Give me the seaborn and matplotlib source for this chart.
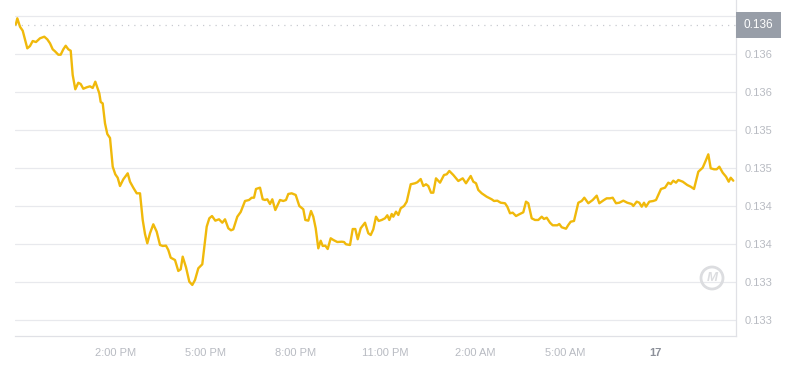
import matplotlib
matplotlib.use("Agg")
import matplotlib.pyplot as plt
import matplotlib.ticker as mticker
from matplotlib.patches import Circle
import seaborn as sns
import pandas as pd

# hours since start of the 24h window
hours = [0.023, 0.077, 0.167, 0.257, 0.410, 0.500, 0.590, 0.700, 0.833, 0.977,
         1.077, 1.167, 1.257, 1.333, 1.443, 1.523, 1.610, 1.690, 1.777, 1.857,
         1.923, 2.010, 2.110, 2.190, 2.277, 2.390, 2.500, 2.590, 2.677, 2.743,
         2.810, 2.857, 2.923, 3.000, 3.077, 3.167, 3.257, 3.343, 3.423, 3.500,
         3.610, 3.757, 3.833, 3.943, 4.057, 4.167, 4.257, 4.333, 4.410, 4.500,
         4.610, 4.723, 4.833, 4.923, 5.033, 5.110, 5.190, 5.333, 5.443, 5.523,
         5.590, 5.700, 5.810, 5.910, 6.000, 6.110, 6.243, 6.310, 6.390, 6.477,
         6.567, 6.677, 6.800, 6.910, 7.000, 7.110, 7.200, 7.277, 7.410, 7.523,
         7.667, 7.800, 7.890, 7.967, 8.033, 8.167, 8.257, 8.333, 8.410, 8.500,
         8.577, 8.677, 8.833, 8.943, 9.033, 9.110, 9.223, 9.357, 9.477, 9.610,
         9.677, 9.777, 9.867, 9.943, 10.023, 10.110, 10.190, 10.257, 10.343, 10.423,
         10.523, 10.610, 10.743, 10.890, 10.967, 11.033, 11.167, 11.257, 11.343, 11.423,
         11.523, 11.667, 11.777, 11.857, 11.943, 12.033, 12.123, 12.223, 12.333, 12.410,
         12.477, 12.557, 12.610, 12.700, 12.777, 12.857, 12.967, 13.057, 13.190, 13.333,
         13.410, 13.523, 13.610, 13.700, 13.777, 13.867, 13.943, 14.033, 14.167, 14.300,
         14.390, 14.477, 14.610, 14.777, 14.923, 15.033, 15.190, 15.277, 15.367, 15.443,
         15.557, 15.723, 15.890, 15.967, 16.077, 16.190, 16.333, 16.410, 16.500, 16.590,
         16.700, 16.810, 16.943, 17.033, 17.110, 17.223, 17.333, 17.443, 17.557, 17.633,
         17.723, 17.833, 17.923, 18.077, 18.143, 18.223, 18.367, 18.443, 18.523, 18.633,
         18.777, 18.890, 18.977, 19.110, 19.257, 19.390, 19.477, 19.633, 19.723, 19.833,
         19.923, 20.033, 20.143, 20.277, 20.410, 20.557, 20.610, 20.723, 20.810, 20.890,
         20.967, 21.033, 21.143, 21.277, 21.367, 21.533, 21.667, 21.777, 21.857, 21.943,
         22.033, 22.110, 22.257, 22.410, 22.523, 22.633, 22.777, 22.923, 23.033, 23.110,
         23.190, 23.300, 23.390, 23.477, 23.590, 23.700, 23.790, 23.857, 23.943]

price = [0.136882, 0.136970, 0.136859, 0.136807, 0.136575, 0.136605, 0.136671, 0.136658, 0.136707, 0.136728,
         0.136693, 0.136641, 0.136562, 0.136536, 0.136491, 0.136491, 0.136562, 0.136609, 0.136562, 0.136543,
         0.136224, 0.136036, 0.136122, 0.136105, 0.136043, 0.136062, 0.136075, 0.136053, 0.136136, 0.136062,
         0.135983, 0.135868, 0.135851, 0.135588, 0.135447, 0.135395, 0.135017, 0.134917, 0.134872, 0.134763,
         0.134851, 0.134930, 0.134820, 0.134741, 0.134667, 0.134667, 0.134316, 0.134132, 0.134009, 0.134141,
         0.134259, 0.134162, 0.133987, 0.133974, 0.133978, 0.133921, 0.133820, 0.133789, 0.133645, 0.133667,
         0.133833, 0.133693, 0.133504, 0.133461, 0.133526, 0.133680, 0.133733, 0.133964, 0.134228, 0.134338,
         0.134368, 0.134307, 0.134325, 0.134280, 0.134325, 0.134207, 0.134180, 0.134193, 0.134359, 0.134421,
         0.134566, 0.134579, 0.134609, 0.134609, 0.134724, 0.134741, 0.134588, 0.134579, 0.134588, 0.134526,
         0.134588, 0.134447, 0.134579, 0.134566, 0.134579, 0.134658, 0.134667, 0.134645, 0.134500, 0.134457,
         0.134316, 0.134307, 0.134434, 0.134359, 0.134207, 0.133943, 0.134043, 0.133974, 0.133978, 0.133934,
         0.134075, 0.134053, 0.134026, 0.134030, 0.134026, 0.133996, 0.133987, 0.134197, 0.134197, 0.134062,
         0.134207, 0.134280, 0.134141, 0.134118, 0.134193, 0.134359, 0.134303, 0.134316, 0.134338, 0.134378,
         0.134316, 0.134395, 0.134359, 0.134425, 0.134382, 0.134470, 0.134500, 0.134557, 0.134786, 0.134799,
         0.134812, 0.134855, 0.134763, 0.134786, 0.134763, 0.134675, 0.134675, 0.134864, 0.134807, 0.134908,
         0.134917, 0.134961, 0.134908, 0.134829, 0.134864, 0.134799, 0.134895, 0.134820, 0.134799, 0.134711,
         0.134667, 0.134622, 0.134588, 0.134566, 0.134570, 0.134543, 0.134536, 0.134491, 0.134404, 0.134412,
         0.134368, 0.134391, 0.134417, 0.134557, 0.134536, 0.134338, 0.134316, 0.134316, 0.134359, 0.134329,
         0.134346, 0.134280, 0.134246, 0.134246, 0.134263, 0.134220, 0.134201, 0.134250, 0.134293, 0.134303,
         0.134543, 0.134566, 0.134609, 0.134536, 0.134579, 0.134636, 0.134536, 0.134579, 0.134601, 0.134601,
         0.134609, 0.134536, 0.134543, 0.134570, 0.134543, 0.134526, 0.134500, 0.134557, 0.134543, 0.134491,
         0.134543, 0.134491, 0.134557, 0.134566, 0.134579, 0.134724, 0.134741, 0.134807, 0.134789, 0.134833,
         0.134807, 0.134842, 0.134820, 0.134776, 0.134754, 0.134724, 0.134951, 0.135004, 0.135105, 0.135180,
         0.134996, 0.134983, 0.134983, 0.135017, 0.134938, 0.134886, 0.134820, 0.134872, 0.134833]

x_tick_pos = [3.343, 6.343, 9.343, 12.343, 15.343, 18.343, 21.343]
x_tick_labels = ["2:00 PM", "5:00 PM", "8:00 PM", "11:00 PM", "2:00 AM", "5:00 AM", "17"]
y_tick_pos = [0.1330, 0.1335, 0.1340, 0.1345, 0.1350, 0.1355, 0.1360, 0.1365, 0.1370]
y_tick_labels = ["0.133", "0.133", "0.134", "0.134", "0.135", "0.135", "0.136", "0.136", "0.137"]
ref_price = 0.136882
ref_label = "0.136"

sns.set_style("white")
plt.rcParams["font.family"] = ["Liberation Sans", "DejaVu Sans"]

fig = plt.figure(figsize=(8, 3.7), dpi=100)
ax = fig.add_axes([15 / 800, 34 / 370, 721 / 800, 336 / 370])

df = pd.DataFrame({"hours": hours, "price": price})
sns.lineplot(data=df, x="hours", y="price", ax=ax, color="#f0b90b", linewidth=1.7)

ax.set_xlim(0, 24.033)
ax.set_ylim(0.132789, 0.137211)

ax.yaxis.tick_right()
ax.set_yticks(y_tick_pos)
ax.yaxis.set_major_formatter(mticker.FixedFormatter(y_tick_labels))
ax.tick_params(axis="y", length=0, pad=6.5, labelsize=8, labelcolor="#b8bbc2")
ax.set_xticks(x_tick_pos)
ax.set_xticklabels(x_tick_labels)
ax.tick_params(axis="x", length=3, width=0.8, color="#d0d2d8", pad=6, labelsize=8,
               labelcolor="#b8bbc2")
lbl = ax.get_xticklabels()[-1]
lbl.set_fontweight("bold")
lbl.set_color("#8c9099")

ax.grid(axis="y", color="#e8e9ed", linewidth=0.9)
ax.grid(axis="x", visible=False)
for s in ["top", "left"]:
    ax.spines[s].set_visible(False)
for s in ["bottom", "right"]:
    ax.spines[s].set_visible(True)
    ax.spines[s].set_color("#e0e1e6")
    ax.spines[s].set_linewidth(0.9)
ax.set_xlabel("")
ax.set_ylabel("")

ax.axhline(ref_price, color="#c8cad0", linestyle=(0, (1, 4)), linewidth=0.9)
ax.annotate(ref_label, xy=(1.0, ref_price), xycoords=("axes fraction", "data"),
            xytext=(5.5, 0), textcoords="offset points", ha="left", va="center",
            fontsize=8.5, color="white",
            bbox=dict(boxstyle="square,pad=0.62", facecolor="#989ea8", edgecolor="none"),
            annotation_clip=False)

# watermark logo
circ = Circle((712, 370 - 278), 11, transform=None, fill=False,
              edgecolor="#dcdde0", linewidth=2.0)
fig.patches.append(circ)
fig.text(712 / 800, 1 - 278 / 370, "M", ha="center", va="center", fontsize=9.5,
         fontstyle="italic", fontweight="bold", color="#dcdde0")

fig.savefig("out.png", dpi=100)
